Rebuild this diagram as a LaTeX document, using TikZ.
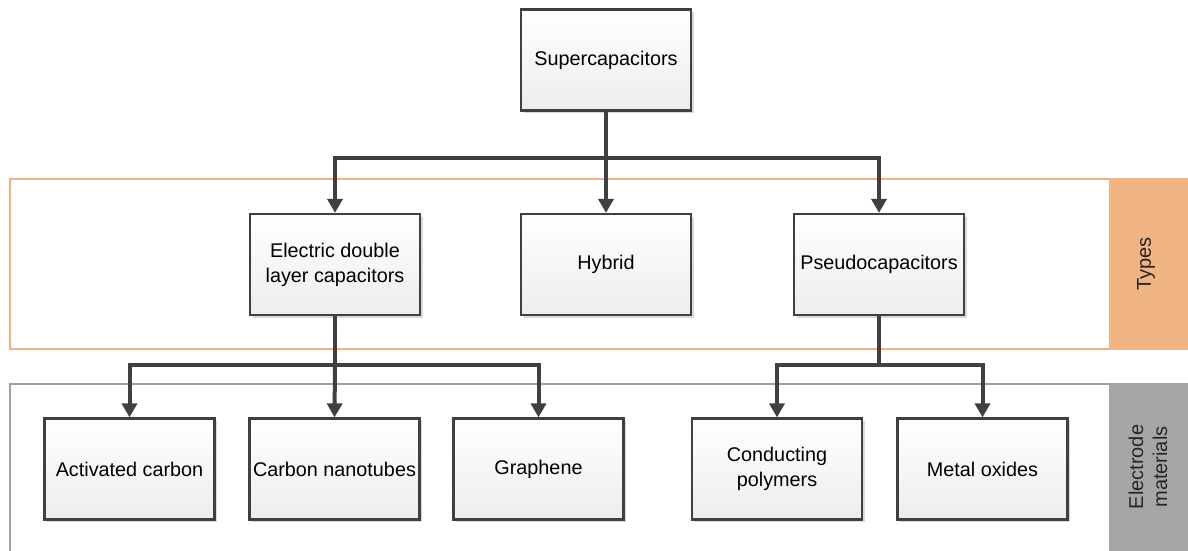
\documentclass[tikz,border=0pt]{standalone}
\usepackage{fontspec}
\setmainfont{Liberation Sans}
\usetikzlibrary{arrows.meta,shadows}
\definecolor{linegray}{HTML}{404040}
\definecolor{typeorange}{HTML}{F0B482}
\definecolor{frameorange}{HTML}{F4B183}
\definecolor{matgray}{HTML}{A6A6A6}
\definecolor{framegray}{HTML}{A0A0A0}
\tikzset{
  box/.style={draw=linegray, line width=2.2pt, top color=white, bottom color=black!7,
    minimum width=170pt, minimum height=101pt, align=center, inner sep=2pt,
    font=\fontsize{19.8}{25}\selectfont, text=black,
    drop shadow={shadow xshift=2.5pt, shadow yshift=-2.5pt, fill=black!25, opacity=0.6}},
  conn/.style={draw=linegray, line width=4pt, -{Triangle[width=15pt,length=14pt]}},
  connline/.style={draw=linegray, line width=4pt},
  sidelabel/.style={rotate=90, align=center, font=\fontsize{20}{24}\selectfont, text=black!85}
}
\begin{document}
\begin{tikzpicture}[x=1pt,y=-1pt]
\useasboundingbox (0,0) rectangle (1188,551);
% bands
\draw[frameorange, line width=2pt] (10,179) rectangle (1192,349);
\fill[typeorange] (1109,179) rectangle (1188,350);
\node[sidelabel] (types) at (1146,264) {Types};
\draw[framegray, line width=2pt] (10,384) rectangle (1192,560);
\fill[matgray] (1109,383) rectangle (1188,551);
\node[sidelabel] (mat) at (1148,467) {Electrode\\materials};
% nodes
\node[box] (sc) at (606,60) {Supercapacitors};
\node[box] (edlc) at (335,264.5) {Electric double\\layer capacitors};
\node[box] (hyb) at (606,264.5) {Hybrid};
\node[box] (pseudo) at (879,264.5) {Pseudocapacitors};
\node[box] (ac) at (129.5,469) {Activated carbon};
\node[box] (cn) at (334.5,469) {Carbon nanotubes};
\node[box] (gr) at (538.5,469) {Graphene};
\node[box] (cp) at (777,469) {Conducting\\polymers};
\node[box] (mo) at (982.5,469) {Metal oxides};
% junctions
\coordinate (j1) at (606,158);
\coordinate (j2) at (335,365);
\coordinate (j3) at (879,365);
% connectors
\draw[connline] (sc.south) -- (j1);
\draw[conn] (j1) -| (edlc.north);
\draw[conn] (j1) -| (pseudo.north);
\draw[conn] (j1) -- (hyb.north);
\draw[connline] (edlc.south) -- (j2);
\draw[conn] (j2) -| (ac.north);
\draw[conn] (j2) -- (cn.north);
\draw[conn] (j2) -| (gr.north);
\draw[connline] (pseudo.south) -- (j3);
\draw[conn] (j3) -| (cp.north);
\draw[conn] (j3) -| (mo.north);
\end{tikzpicture}
\end{document}
